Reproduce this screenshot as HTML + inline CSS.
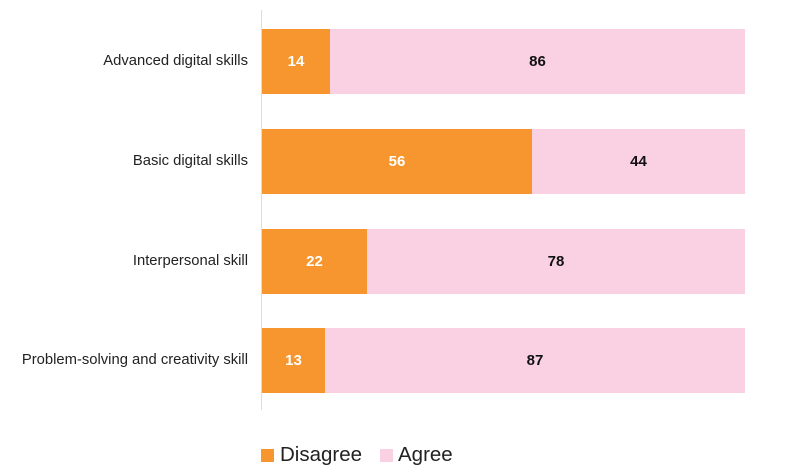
<!DOCTYPE html>
<html><head><style>
body{margin:0;width:787px;height:473px;background:#fff;font-family:"Liberation Sans",sans-serif;position:relative;overflow:hidden}
.a{position:absolute}
.lab{position:absolute;right:539px;font-size:14.8px;color:#222;text-align:right;white-space:nowrap}
.bar{position:absolute;height:65px}
.o{background:#F7962F}.p{background:#FAD1E3}
.v{position:absolute;font-size:15px;font-weight:bold;line-height:65px;text-align:center}
</style></head><body>
<div class="a" style="left:261px;top:10px;width:1px;height:400px;background:#ddd"></div>

<div class="lab" style="top:53px">Advanced digital skills</div>
<div class="bar o" style="left:262px;top:29px;width:68px"><div class="v" style="width:68px;color:#fff">14</div></div>
<div class="bar p" style="left:330px;top:29px;width:415px"><div class="v" style="width:415px;color:#111">86</div></div>

<div class="lab" style="top:153px">Basic digital skills</div>
<div class="bar o" style="left:262px;top:129px;width:270px"><div class="v" style="width:270px;color:#fff">56</div></div>
<div class="bar p" style="left:532px;top:129px;width:213px"><div class="v" style="width:213px;color:#111">44</div></div>

<div class="lab" style="top:253px">Interpersonal skill</div>
<div class="bar o" style="left:262px;top:229px;width:105px"><div class="v" style="width:105px;color:#fff">22</div></div>
<div class="bar p" style="left:367px;top:229px;width:378px"><div class="v" style="width:378px;color:#111">78</div></div>

<div class="lab" style="top:352px">Problem-solving and creativity skill</div>
<div class="bar o" style="left:262px;top:328px;width:63px"><div class="v" style="width:63px;color:#fff">13</div></div>
<div class="bar p" style="left:325px;top:328px;width:420px"><div class="v" style="width:420px;color:#111">87</div></div>

<div class="a o" style="left:261px;top:449px;width:13px;height:13px"></div>
<div class="a" style="left:280px;top:443px;font-size:20.5px;color:#222">Disagree</div>
<div class="a p" style="left:380px;top:449px;width:13px;height:13px"></div>
<div class="a" style="left:398px;top:443px;font-size:20.5px;color:#222">Agree</div>
</body></html>
